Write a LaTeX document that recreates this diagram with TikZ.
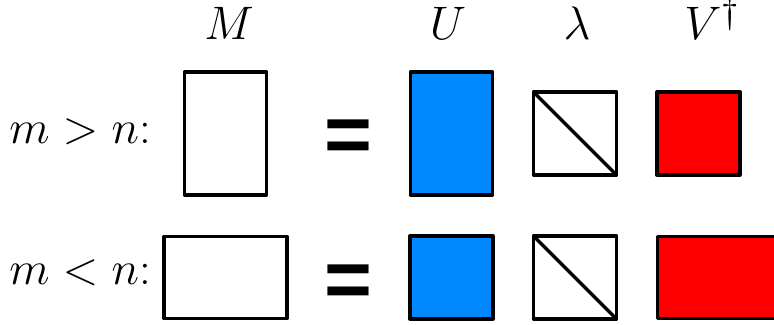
\documentclass[tikz,border=0pt]{standalone}
\usepackage{fontspec}
\newfontfamily\eqfont{Liberation Sans}
\usetikzlibrary{positioning}

\definecolor{ublue}{RGB}{0,136,255}
\definecolor{vred}{RGB}{255,0,0}

\tikzset{
  mat/.style={draw=black, line width=1.65pt, line join=round, inner sep=0pt, outer sep=0pt},
  tall/.style={mat, minimum width=41pt, minimum height=61.5pt},
  wide/.style={mat, minimum width=61.5pt, minimum height=41pt},
  sq/.style={mat, minimum width=41.5pt, minimum height=41.5pt},
  lbl/.style={font=\Huge, scale=0.945},
  eqsign/.style={font=\eqfont\bfseries\fontsize{41}{48}\selectfont, anchor=base}
}

\begin{document}
\begin{tikzpicture}[x=0.5pt, y=-0.5pt]
\useasboundingbox (0,0) rectangle (774,325);
\begin{scope}[every node/.style={inner sep=0pt}]

\node [lbl, anchor=base] (hM)   at (229,40)  {$M$};
\node [lbl, anchor=base] (hU)   at (448,40)  {$U$};
\node [lbl, anchor=base] (hlam) at (577,40)  {$\lambda$};
\node [lbl, anchor=base] (hV)   at (712,40)  {$V^\dagger$};

% m > n
\node [lbl, anchor=base west] (rowA) at (9,144) {$m > n$:};
\node [tall]               (MA)   at (225.5,133.5) {};
\node [eqsign]             (eqA)  at (348.5,163)   {=};
\node [tall, fill=ublue]   (UA)   at (451.5,133.5) {};
\node [sq]                 (lamA) at (575,133.5)   {};
\node [sq, fill=vred]      (VA)   at (698.5,133.5) {};
\draw [line width=1.65pt, line cap=round] (lamA.north west) -- (lamA.south east);

% m < n
\node [lbl, anchor=base west] (rowB) at (9,284) {$m < n$:};
\node [wide]               (MB)   at (225.5,277.5) {};
\node [eqsign]             (eqB)  at (348.5,307)   {=};
\node [sq, fill=ublue]     (UB)   at (451.5,277.5) {};
\node [sq]                 (lamB) at (575,277.5)   {};
\node [wide, fill=vred]    (VB)   at (719,277.5)   {};
\draw [line width=1.65pt, line cap=round] (lamB.north west) -- (lamB.south east);

\end{scope}
\end{tikzpicture}
\end{document}
